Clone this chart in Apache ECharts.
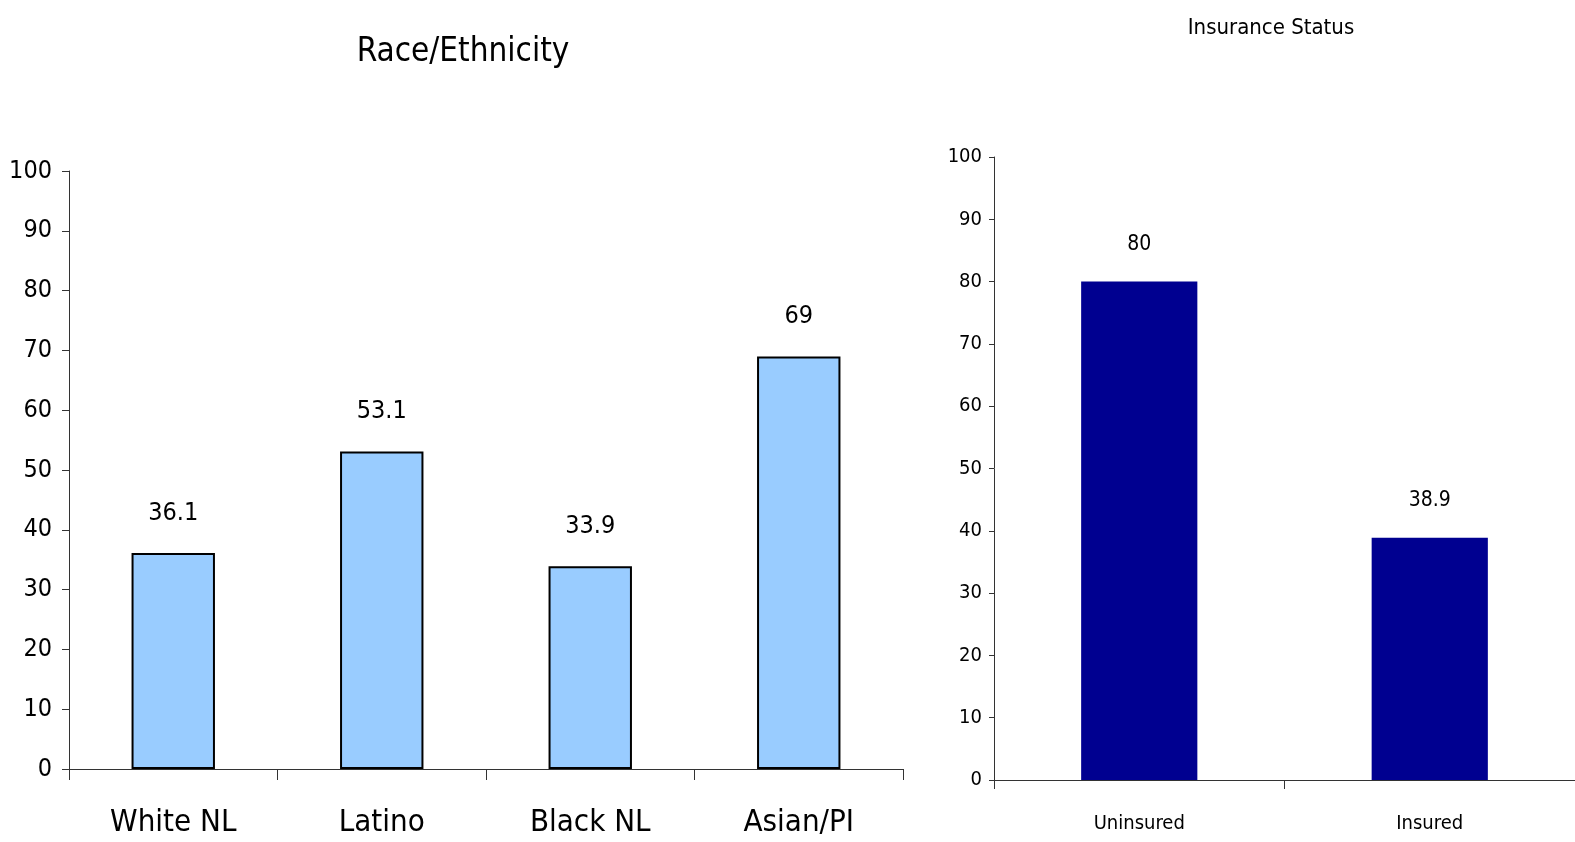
<!DOCTYPE html>
<html>
<head>
<meta charset="utf-8">
<script src="https://cdn.jsdelivr.net/npm/echarts@6/dist/echarts.min.js"></script>
<style>
html,body{margin:0;padding:0;background:#fff;}
#c{width:1575px;height:842px;}
</style>
</head>
<body>
<div id="c"></div>
<script>
const raceCategories = ['White NL', 'Latino', 'Black NL', 'Asian/PI'];
const raceValues = [36.1, 53.1, 33.9, 69];
const insCategories = ['Uninsured', 'Insured'];
const insValues = [80, 38.9];
const yTicks = [0, 10, 20, 30, 40, 50, 60, 70, 80, 90, 100];

const FONT = "'Liberation Sans Narrow', 'DejaVu Sans Condensed', 'Arial Narrow', sans-serif";

const chart = echarts.init(document.getElementById('c'));
chart.setOption({
  animation: false,
  backgroundColor: '#ffffff',
  textStyle: { fontFamily: FONT },
  title: [
    { text: 'Race/Ethnicity', left: 458, top: 31, textAlign: 'center',
      textStyle: { fontFamily: FONT, fontSize: 33, fontWeight: 'normal', color: '#000' } },
    { text: 'Insurance Status', left: 1266, top: 12, textAlign: 'center',
      textStyle: { fontFamily: FONT, fontSize: 22, fontWeight: 'normal', color: '#000' } }
  ],
  grid: [
    { left: 69, top: 171, width: 834, height: 598 },
    { left: 994, top: 157, width: 590, height: 623 }
  ],
  xAxis: [
    { type: 'category', gridIndex: 0, data: raceCategories,
      axisLine: { lineStyle: { color: '#333', width: 1 } },
      axisTick: { show: true, length: 11, inside: false, lineStyle: { color: '#333' } },
      axisLabel: { fontFamily: FONT, fontSize: 31, color: '#000', margin: 38 } },
    { type: 'category', gridIndex: 1, data: insCategories,
      axisLine: { lineStyle: { color: '#333', width: 1 } },
      axisTick: { show: true, length: 9, lineStyle: { color: '#333' } },
      axisLabel: { fontFamily: FONT, fontSize: 20, color: '#000', margin: 34 } }
  ],
  yAxis: [
    { type: 'value', gridIndex: 0, min: yTicks[0], max: yTicks[yTicks.length - 1], interval: 10,
      splitLine: { show: false },
      axisLine: { show: true, lineStyle: { color: '#333', width: 1 } },
      axisTick: { show: true, length: 7, lineStyle: { color: '#333' } },
      axisLabel: { fontFamily: FONT, fontSize: 25, color: '#000', margin: 17 } },
    { type: 'value', gridIndex: 1, min: yTicks[0], max: yTicks[yTicks.length - 1], interval: 10,
      splitLine: { show: false },
      axisLine: { show: true, lineStyle: { color: '#333', width: 1 } },
      axisTick: { show: true, length: 5, lineStyle: { color: '#333' } },
      axisLabel: { fontFamily: FONT, fontSize: 20, color: '#000', margin: 12 } }
  ],
  series: [
    { type: 'bar', xAxisIndex: 0, yAxisIndex: 0, data: raceValues, barWidth: '40%',
      itemStyle: { color: '#99CCFF', borderColor: '#000', borderWidth: 2 },
      label: { show: true, position: 'top', distance: 27, fontFamily: FONT, fontSize: 25, color: '#000' } },
    { type: 'bar', xAxisIndex: 1, yAxisIndex: 1, data: insValues, barWidth: '40%',
      itemStyle: { color: '#000090' },
      label: { show: true, position: 'top', distance: 27, fontFamily: FONT, fontSize: 21, color: '#000' } }
  ]
});
</script>
</body>
</html>
